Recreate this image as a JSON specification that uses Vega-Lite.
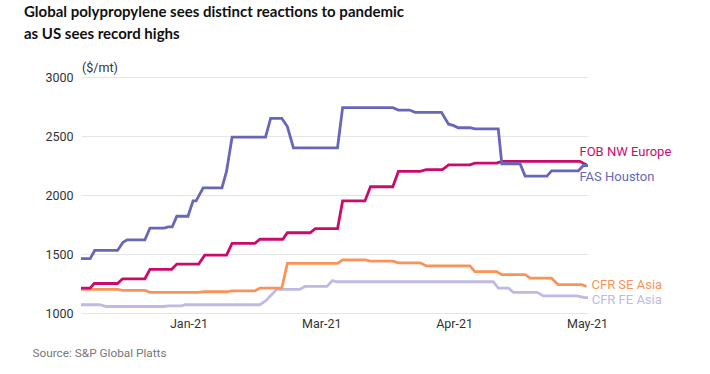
{
  "$schema": "https://vega.github.io/schema/vega-lite/v6.json",
  "width": 507,
  "height": 236,
  "autosize": "none",
  "padding": {"left": 81, "top": 77, "right": 122, "bottom": 61},
  "background": "white",
  "title": {
    "text": ["Global polypropylene sees distinct reactions to pandemic", "as US sees record highs"],
    "anchor": "start",
    "frame": "group",
    "font": "Lato",
    "fontSize": 15,
    "fontWeight": "bold",
    "color": "#111111",
    "lineHeight": 21.5,
    "dx": -57,
    "offset": 19.5
  },
  "config": {
    "view": {"stroke": null},
    "font": "Roboto",
    "axis": {"labelFont": "Roboto", "titleFont": "Roboto"}
  },
  "data": {
    "values": [
      {"series": "CFR FE Asia", "t": 0, "price": 1070},
      {"series": "CFR FE Asia", "t": 3.7, "price": 1070},
      {"series": "CFR FE Asia", "t": 5.0, "price": 1055},
      {"series": "CFR FE Asia", "t": 16.2, "price": 1055},
      {"series": "CFR FE Asia", "t": 17.2, "price": 1060},
      {"series": "CFR FE Asia", "t": 19.8, "price": 1060},
      {"series": "CFR FE Asia", "t": 20.6, "price": 1070},
      {"series": "CFR FE Asia", "t": 35.3, "price": 1070},
      {"series": "CFR FE Asia", "t": 36.6, "price": 1110},
      {"series": "CFR FE Asia", "t": 38.6, "price": 1200},
      {"series": "CFR FE Asia", "t": 43.1, "price": 1200},
      {"series": "CFR FE Asia", "t": 44.2, "price": 1225},
      {"series": "CFR FE Asia", "t": 48.5, "price": 1225},
      {"series": "CFR FE Asia", "t": 49.6, "price": 1275},
      {"series": "CFR FE Asia", "t": 50.4, "price": 1265},
      {"series": "CFR FE Asia", "t": 81.3, "price": 1265},
      {"series": "CFR FE Asia", "t": 82.3, "price": 1210},
      {"series": "CFR FE Asia", "t": 84.3, "price": 1210},
      {"series": "CFR FE Asia", "t": 85.3, "price": 1175},
      {"series": "CFR FE Asia", "t": 90.0, "price": 1175},
      {"series": "CFR FE Asia", "t": 91.2, "price": 1145},
      {"series": "CFR FE Asia", "t": 97.8, "price": 1145},
      {"series": "CFR FE Asia", "t": 99.4, "price": 1130},
      {"series": "CFR FE Asia", "t": 100, "price": 1130},

      {"series": "CFR SE Asia", "t": 0, "price": 1200},
      {"series": "CFR SE Asia", "t": 7.2, "price": 1200},
      {"series": "CFR SE Asia", "t": 8.2, "price": 1192},
      {"series": "CFR SE Asia", "t": 12.6, "price": 1192},
      {"series": "CFR SE Asia", "t": 13.6, "price": 1175},
      {"series": "CFR SE Asia", "t": 23.1, "price": 1175},
      {"series": "CFR SE Asia", "t": 24.4, "price": 1180},
      {"series": "CFR SE Asia", "t": 28.7, "price": 1180},
      {"series": "CFR SE Asia", "t": 29.8, "price": 1188},
      {"series": "CFR SE Asia", "t": 34.3, "price": 1188},
      {"series": "CFR SE Asia", "t": 35.3, "price": 1210},
      {"series": "CFR SE Asia", "t": 39.6, "price": 1210},
      {"series": "CFR SE Asia", "t": 40.7, "price": 1420},
      {"series": "CFR SE Asia", "t": 50.6, "price": 1420},
      {"series": "CFR SE Asia", "t": 51.6, "price": 1450},
      {"series": "CFR SE Asia", "t": 56.0, "price": 1450},
      {"series": "CFR SE Asia", "t": 57.1, "price": 1440},
      {"series": "CFR SE Asia", "t": 61.5, "price": 1440},
      {"series": "CFR SE Asia", "t": 62.6, "price": 1425},
      {"series": "CFR SE Asia", "t": 66.9, "price": 1425},
      {"series": "CFR SE Asia", "t": 68.1, "price": 1400},
      {"series": "CFR SE Asia", "t": 76.7, "price": 1400},
      {"series": "CFR SE Asia", "t": 77.7, "price": 1350},
      {"series": "CFR SE Asia", "t": 82.0, "price": 1350},
      {"series": "CFR SE Asia", "t": 83.0, "price": 1325},
      {"series": "CFR SE Asia", "t": 87.6, "price": 1325},
      {"series": "CFR SE Asia", "t": 88.6, "price": 1295},
      {"series": "CFR SE Asia", "t": 92.8, "price": 1295},
      {"series": "CFR SE Asia", "t": 94.1, "price": 1240},
      {"series": "CFR SE Asia", "t": 98.8, "price": 1240},
      {"series": "CFR SE Asia", "t": 99.7, "price": 1225},

      {"series": "FOB NW Europe", "t": 0, "price": 1210},
      {"series": "FOB NW Europe", "t": 1.8, "price": 1210},
      {"series": "FOB NW Europe", "t": 2.6, "price": 1250},
      {"series": "FOB NW Europe", "t": 7.2, "price": 1250},
      {"series": "FOB NW Europe", "t": 8.2, "price": 1290},
      {"series": "FOB NW Europe", "t": 12.6, "price": 1290},
      {"series": "FOB NW Europe", "t": 13.6, "price": 1370},
      {"series": "FOB NW Europe", "t": 17.9, "price": 1370},
      {"series": "FOB NW Europe", "t": 18.9, "price": 1415},
      {"series": "FOB NW Europe", "t": 23.2, "price": 1415},
      {"series": "FOB NW Europe", "t": 24.4, "price": 1490},
      {"series": "FOB NW Europe", "t": 28.7, "price": 1490},
      {"series": "FOB NW Europe", "t": 29.8, "price": 1590},
      {"series": "FOB NW Europe", "t": 34.3, "price": 1590},
      {"series": "FOB NW Europe", "t": 35.3, "price": 1625},
      {"series": "FOB NW Europe", "t": 39.8, "price": 1625},
      {"series": "FOB NW Europe", "t": 40.7, "price": 1680},
      {"series": "FOB NW Europe", "t": 45.2, "price": 1680},
      {"series": "FOB NW Europe", "t": 46.2, "price": 1715},
      {"series": "FOB NW Europe", "t": 50.6, "price": 1715},
      {"series": "FOB NW Europe", "t": 51.6, "price": 1950},
      {"series": "FOB NW Europe", "t": 56.0, "price": 1950},
      {"series": "FOB NW Europe", "t": 57.1, "price": 2070},
      {"series": "FOB NW Europe", "t": 61.5, "price": 2070},
      {"series": "FOB NW Europe", "t": 62.6, "price": 2200},
      {"series": "FOB NW Europe", "t": 66.9, "price": 2200},
      {"series": "FOB NW Europe", "t": 68.1, "price": 2215},
      {"series": "FOB NW Europe", "t": 71.3, "price": 2215},
      {"series": "FOB NW Europe", "t": 72.5, "price": 2255},
      {"series": "FOB NW Europe", "t": 76.7, "price": 2255},
      {"series": "FOB NW Europe", "t": 77.7, "price": 2270},
      {"series": "FOB NW Europe", "t": 82.0, "price": 2270},
      {"series": "FOB NW Europe", "t": 83.0, "price": 2285},
      {"series": "FOB NW Europe", "t": 98.4, "price": 2285},
      {"series": "FOB NW Europe", "t": 99.7, "price": 2255},

      {"series": "FAS Houston", "t": 0, "price": 1460},
      {"series": "FAS Houston", "t": 1.8, "price": 1460},
      {"series": "FAS Houston", "t": 2.7, "price": 1530},
      {"series": "FAS Houston", "t": 7.2, "price": 1530},
      {"series": "FAS Houston", "t": 8.3, "price": 1600},
      {"series": "FAS Houston", "t": 9.1, "price": 1620},
      {"series": "FAS Houston", "t": 12.6, "price": 1620},
      {"series": "FAS Houston", "t": 13.6, "price": 1720},
      {"series": "FAS Houston", "t": 16.4, "price": 1720},
      {"series": "FAS Houston", "t": 17.2, "price": 1730},
      {"series": "FAS Houston", "t": 18.0, "price": 1730},
      {"series": "FAS Houston", "t": 18.9, "price": 1820},
      {"series": "FAS Houston", "t": 21.1, "price": 1820},
      {"series": "FAS Houston", "t": 22.1, "price": 1950},
      {"series": "FAS Houston", "t": 22.7, "price": 1950},
      {"series": "FAS Houston", "t": 24.1, "price": 2060},
      {"series": "FAS Houston", "t": 27.8, "price": 2060},
      {"series": "FAS Houston", "t": 28.7, "price": 2200},
      {"series": "FAS Houston", "t": 29.8, "price": 2490},
      {"series": "FAS Houston", "t": 36.4, "price": 2490},
      {"series": "FAS Houston", "t": 37.4, "price": 2650},
      {"series": "FAS Houston", "t": 39.6, "price": 2650},
      {"series": "FAS Houston", "t": 40.7, "price": 2580},
      {"series": "FAS Houston", "t": 41.9, "price": 2400},
      {"series": "FAS Houston", "t": 50.6, "price": 2400},
      {"series": "FAS Houston", "t": 51.6, "price": 2740},
      {"series": "FAS Houston", "t": 61.5, "price": 2740},
      {"series": "FAS Houston", "t": 62.6, "price": 2720},
      {"series": "FAS Houston", "t": 64.8, "price": 2720},
      {"series": "FAS Houston", "t": 65.9, "price": 2700},
      {"series": "FAS Houston", "t": 71.1, "price": 2700},
      {"series": "FAS Houston", "t": 72.5, "price": 2600},
      {"series": "FAS Houston", "t": 73.4, "price": 2590},
      {"series": "FAS Houston", "t": 74.4, "price": 2570},
      {"series": "FAS Houston", "t": 76.7, "price": 2570},
      {"series": "FAS Houston", "t": 77.7, "price": 2560},
      {"series": "FAS Houston", "t": 82.3, "price": 2560},
      {"series": "FAS Houston", "t": 83.0, "price": 2265},
      {"series": "FAS Houston", "t": 86.6, "price": 2265},
      {"series": "FAS Houston", "t": 87.6, "price": 2160},
      {"series": "FAS Houston", "t": 91.9, "price": 2160},
      {"series": "FAS Houston", "t": 92.8, "price": 2205},
      {"series": "FAS Houston", "t": 98.1, "price": 2205},
      {"series": "FAS Houston", "t": 99.1, "price": 2250},
      {"series": "FAS Houston", "t": 100, "price": 2250}
    ]
  },
  "encoding": {
    "x": {
      "field": "t",
      "type": "quantitative",
      "scale": {"domain": [0, 100], "nice": false, "zero": false},
      "axis": {
        "values": [21.2, 47.4, 73.6, 99.8],
        "labelExpr": "['Jan-21','Mar-21','Apr-21','May-21'][round(datum.index*3)]",
        "grid": false,
        "ticks": false,
        "domain": false,
        "labelFontSize": 12.5,
        "labelColor": "#333333",
        "labelPadding": 4,
        "labelFlush": false,
        "labelOverlap": false,
        "title": "Source: S&P Global Platts",
        "titleX": -49,
        "titleY": 39.5,
        "titleAlign": "left",
        "titleBaseline": "middle",
        "titleFontSize": 11.8,
        "titleFontWeight": "normal",
        "titleColor": "#777777"
      }
    },
    "y": {
      "field": "price",
      "type": "quantitative",
      "scale": {"domain": [1000, 3000], "nice": false, "zero": false},
      "axis": {
        "values": [1000, 1500, 2000, 2500, 3000],
        "format": "d",
        "grid": true,
        "gridColor": "#e6e6e6",
        "gridWidth": 1,
        "ticks": false,
        "domain": false,
        "labelFontSize": 12.5,
        "labelColor": "#333333",
        "labelPadding": 8,
        "title": "($/mt)",
        "titleAngle": 0,
        "titleX": 0.5,
        "titleY": -10,
        "titleAlign": "left",
        "titleBaseline": "middle",
        "titleFontSize": 12.5,
        "titleFontWeight": "normal",
        "titleColor": "#333333"
      }
    },
    "color": {
      "field": "series",
      "type": "nominal",
      "scale": {
        "domain": ["CFR FE Asia", "CFR SE Asia", "FOB NW Europe", "FAS Houston"],
        "range": ["#BDBAE4", "#F9935A", "#CC0A6E", "#6667B8"]
      },
      "legend": null
    }
  },
  "layer": [
    {"mark": {"type": "line", "strokeWidth": 2.8, "interpolate": "linear"}},
    {
      "transform": [
        {"joinaggregate": [{"op": "max", "field": "t", "as": "tmax"}], "groupby": ["series"]},
        {"filter": "datum.t == datum.tmax && datum.series == 'FOB NW Europe'"}
      ],
      "mark": {"type": "text", "align": "left", "baseline": "middle", "dx": -7, "dy": -12.5, "fontSize": 13, "font": "Roboto"},
      "encoding": {"text": {"field": "series"}}
    },
    {
      "transform": [
        {"joinaggregate": [{"op": "max", "field": "t", "as": "tmax"}], "groupby": ["series"]},
        {"filter": "datum.t == datum.tmax && datum.series == 'FAS Houston'"}
      ],
      "mark": {"type": "text", "align": "left", "baseline": "middle", "dx": -8.5, "dy": 11, "fontSize": 13, "font": "Roboto"},
      "encoding": {"text": {"field": "series"}}
    },
    {
      "transform": [
        {"joinaggregate": [{"op": "max", "field": "t", "as": "tmax"}], "groupby": ["series"]},
        {"filter": "datum.t == datum.tmax && datum.series == 'CFR SE Asia'"}
      ],
      "mark": {"type": "text", "align": "left", "baseline": "middle", "dx": 5, "dy": -1, "fontSize": 13, "font": "Roboto"},
      "encoding": {"text": {"field": "series"}}
    },
    {
      "transform": [
        {"joinaggregate": [{"op": "max", "field": "t", "as": "tmax"}], "groupby": ["series"]},
        {"filter": "datum.t == datum.tmax && datum.series == 'CFR FE Asia'"}
      ],
      "mark": {"type": "text", "align": "left", "baseline": "middle", "dx": 3.7, "dy": 2, "fontSize": 13, "font": "Roboto"},
      "encoding": {"text": {"field": "series"}}
    }
  ]
}
